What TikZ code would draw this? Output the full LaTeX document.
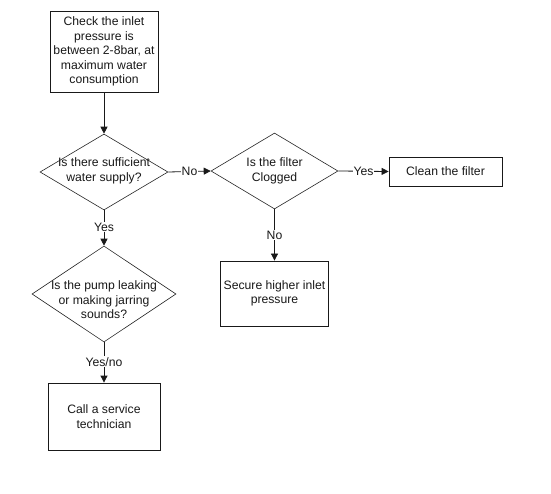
\documentclass[tikz,border=0pt]{standalone}
\usepackage{fontspec}
\setmainfont{Liberation Sans}
\usetikzlibrary{shapes.geometric,arrows.meta}
\begin{document}
\begin{tikzpicture}[x=1pt,y=-1pt,
  every node/.style={font=\fontsize{12.2}{14.6}\selectfont, text=black!90},
  procbox/.style={draw=black!90, line width=0.8pt, align=center, inner sep=0pt},
  decision/.style={draw=black!85, line width=0.6pt, shape=diamond, inner sep=0pt},
  dtext/.style={align=center, inner sep=0pt},
  conn/.style={draw=black!90, line width=0.8pt, -{Triangle[length=7pt,width=7pt]}},
  lbl/.style={fill=white, inner sep=1pt}
]
\useasboundingbox (0,0) rectangle (551,494);
\fill[white] (0,0) rectangle (551,494);

\node[procbox, minimum width=108pt, minimum height=81pt] (check) at (104,51.5)
  {Check the inlet\\pressure is\\between 2-8bar, at\\maximum water\\consumption};

\node[decision, minimum width=128pt, minimum height=76pt] (d1) at (104,172) {};
\node[dtext] (d1t) at (104,171) {Is there sufficient\\water supply?};

\node[decision, minimum width=127pt, minimum height=76pt] (d2) at (274.5,171) {};
\node[dtext] (d2t) at (274.5,171) {Is the filter\\Clogged};

\node[procbox, minimum width=113pt, minimum height=29pt] (clean) at (445.5,171.5) {Clean the filter};

\node[procbox, minimum width=108pt, minimum height=65pt] (secure) at (274.5,293.5)
  {Secure higher inlet\\pressure};

\node[decision, minimum width=144pt, minimum height=96pt] (d3) at (104,294) {};
\node[dtext] (d3t) at (104,300) {Is the pump leaking\\or making jarring\\sounds?};

\node[procbox, minimum width=112pt, minimum height=67pt] (call) at (104,416.5)
  {Call a service\\technician};

\draw[conn] (check.south) -- (d1.north);
\draw[conn] (d1.east) -- node[lbl] {No} (d2.west);
\draw[conn] (d2.east) -- node[lbl] {Yes} (clean.west);
\draw[conn] (d2.south) -- node[lbl, pos=0.5] {No} (secure.north);
\draw[conn] (d1.south) -- node[lbl, pos=0.47] {Yes} (d3.north);
\draw[conn] (d3.south) -- node[lbl, pos=0.48] {Yes/no} (call.north);
\end{tikzpicture}
\end{document}
